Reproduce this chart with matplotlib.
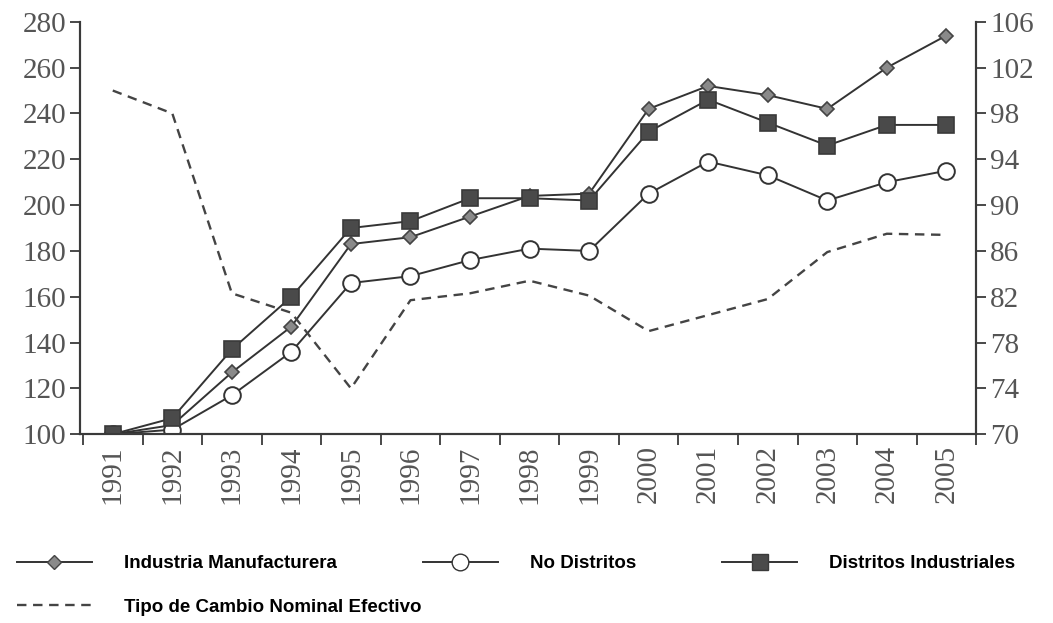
import matplotlib
matplotlib.use("Agg")
import matplotlib.pyplot as plt
from matplotlib.lines import Line2D

# données (indices base 1991 = 100)
annees = ["1991", "1992", "1993", "1994", "1995", "1996", "1997", "1998",
          "1999", "2000", "2001", "2002", "2003", "2004", "2005"]
industria = [100, 104, 127, 147, 183, 186, 195, 204, 205, 242, 252, 248, 242, 260, 274]
no_distritos = [100, 102, 117, 136, 166, 169, 176, 181, 180, 205, 219, 213, 202, 210, 215]
distritos = [100, 107, 137, 160, 190, 193, 203, 203, 202, 232, 246, 236, 226, 235, 235]
# axe droit : tipo de cambio nominal efectivo
tipo_cambio = [100.0, 98.0, 82.3, 80.6, 74.0, 81.7, 82.3, 83.4, 82.1, 79.0,
               80.4, 81.8, 85.9, 87.5, 87.4]

left_ticks = list(range(100, 281, 20))
right_ticks = list(range(70, 107, 4))

AX_COL = "#3a3a3a"
TICK_COL = "#555555"
SERIF = ["Liberation Serif", "DejaVu Serif"]
LEG_FONT = ["Liberation Sans Narrow", "Liberation Sans", "DejaVu Sans"]

fig = plt.figure(figsize=(10.53, 6.23), dpi=100)
ax = fig.add_axes([0.076, 0.303, 0.851, 0.662])
ax2 = ax.twinx()

x = range(len(annees))
ax.plot(x, industria, "-", color="#333333", lw=1.4, marker="D", ms=7,
        mfc="#8a8a8a", mec="#444444", mew=1.2, zorder=3)
ax.plot(x, no_distritos, "-", color="#333333", lw=1.4, marker="o", ms=12,
        mfc="white", mec="#333333", mew=1.4, zorder=3)
ax.plot(x, distritos, "-", color="#333333", lw=1.4, marker="s", ms=12,
        mfc="#4a4a4a", mec="#3a3a3a", mew=1.2, zorder=4)
ax2.plot(x, tipo_cambio, "--", color="#444444", lw=1.7, dashes=(4, 2.8))

ax.set_xlim(-0.55, 14.43)
ax.set_ylim(100, 280)
ax2.set_ylim(70, 106)

ax.set_yticks(left_ticks)
ax2.set_yticks(right_ticks)
ax.set_xticks(list(x), annees, rotation=90)
ax.set_xticks([k + 0.5 for k in range(-1, 15)], minor=True)

for a in (ax, ax2):
    a.spines["top"].set_visible(False)
    for s in ("left", "right", "bottom"):
        a.spines[s].set_color(AX_COL)
        a.spines[s].set_linewidth(1.5)
    a.tick_params(axis="y", length=7, width=1.3, color=AX_COL,
                  labelcolor=TICK_COL, labelsize=21, pad=3)
for lab in ax.get_yticklabels() + ax2.get_yticklabels():
    lab.set_family(SERIF)

ax.tick_params(axis="x", which="major", length=0, labelsize=21,
               labelcolor=TICK_COL, pad=8)
ax.tick_params(axis="x", which="minor", length=8, width=1.3, color=AX_COL)
for lab in ax.get_xticklabels():
    lab.set_family(SERIF)

# légende en bas, comme dans la source
h1 = Line2D([], [], color="#333333", lw=1.4, marker="D", ms=7,
            mfc="#8a8a8a", mec="#444444")
h2 = Line2D([], [], color="#333333", lw=1.4, marker="o", ms=12,
            mfc="white", mec="#333333")
h3 = Line2D([], [], color="#333333", lw=1.4, marker="s", ms=11,
            mfc="#4a4a4a", mec="#3a3a3a")
h4 = Line2D([], [], color="#444444", lw=1.7, ls="--", dashes=(4, 2.8))

leg_props = {"family": LEG_FONT, "weight": "bold", "size": 13.5}
fig.legend([h1, h2, h3],
           ["Industria Manufacturera", "No Distritos", "Distritos Industriales"],
           loc="center left", bbox_to_anchor=(0.0, 0.095), ncol=3,
           frameon=False, prop=leg_props, handlelength=4.0,
           handletextpad=1.7, columnspacing=4.6)
fig.legend([h4], ["Tipo de Cambio Nominal Efectivo"],
           loc="center left", bbox_to_anchor=(0.0, 0.025),
           frameon=False, prop=leg_props, handlelength=4.0,
           handletextpad=1.7)

fig.savefig("out.png", dpi=100)
